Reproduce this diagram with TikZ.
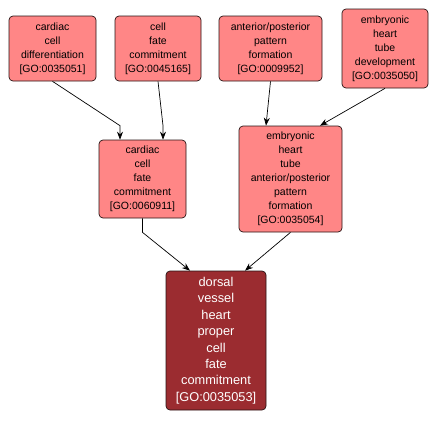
\documentclass[tikz,border=0pt]{standalone}
\usepackage{fontspec}
\setmainfont{Liberation Sans}
\usepackage{tikz}
\usetikzlibrary{arrows.meta, positioning, calc}
\definecolor{termfill}{RGB}{255, 134, 134}
\definecolor{termdark}{RGB}{155, 44, 48}
\definecolor{termline}{RGB}{40, 20, 20}

\begin{document}
\begin{tikzpicture}[x=1pt, y=1pt,
  term/.style={draw=termline, line width=0.7pt, fill=termfill, rounded corners=4pt, align=center, inner sep=0pt,
    font=\fontsize{10.5}{14}\selectfont},
  focus/.style={term, fill=termdark, text=white, font=\fontsize{12.8}{16.4}\selectfont},
  edge/.style={draw=black, line width=0.7pt, -{Stealth[length=8pt, width=6pt]}}]
  \useasboundingbox (0,0) rectangle (438,-421);
  % top row
  \node[term, minimum width=87, minimum height=65] (diff) at (52.5,-48.5) {cardiac\\cell\\differentiation\\{[GO:0035051]}};
  \node[term, minimum width=86, minimum height=65] (fate) at (158,-48.5) {cell\\fate\\commitment\\{[GO:0045165]}};
  \node[term, minimum width=103, minimum height=65] (ap) at (270.5,-48.5) {anterior/posterior\\pattern\\formation\\{[GO:0009952]}};
  \node[term, minimum width=86, minimum height=79] (tube) at (385,-48.5) {embryonic\\heart\\tube\\development\\{[GO:0035050]}};
  % middle row
  \node[term, minimum width=87, minimum height=78] (cardfate) at (142.5,-179) {cardiac\\cell\\fate\\commitment\\{[GO:0060911]}};
  \node[term, minimum width=103, minimum height=106] (tubeap) at (290.5,-179) {embryonic\\heart\\tube\\anterior/posterior\\pattern\\formation\\{[GO:0035054]}};
  % bottom
  \node[focus, minimum width=100, minimum height=139] (dorsal) at (216,-340.5) {dorsal\\vessel\\heart\\proper\\cell\\fate\\commitment\\{[GO:0035053]}};

  \draw[edge] (diff.south) -- ([shift={(-22.5,14)}]cardfate.north) -- ([xshift=-22.5]cardfate.north);
  \draw[edge] (fate.south) -- ([shift={(20.5,14)}]cardfate.north) -- ([xshift=20.5]cardfate.north);
  \draw[edge] (ap.south) -- ([xshift=-24.5]tubeap.north);
  \draw[edge] (tube.south) -- ([xshift=29.5]tubeap.north);
  \draw[edge] (cardfate.south) -- ++(0,-14) -- ([xshift=-26]dorsal.north);
  \draw[edge] (tubeap.south) -- ([xshift=29]dorsal.north);
\end{tikzpicture}
\end{document}
